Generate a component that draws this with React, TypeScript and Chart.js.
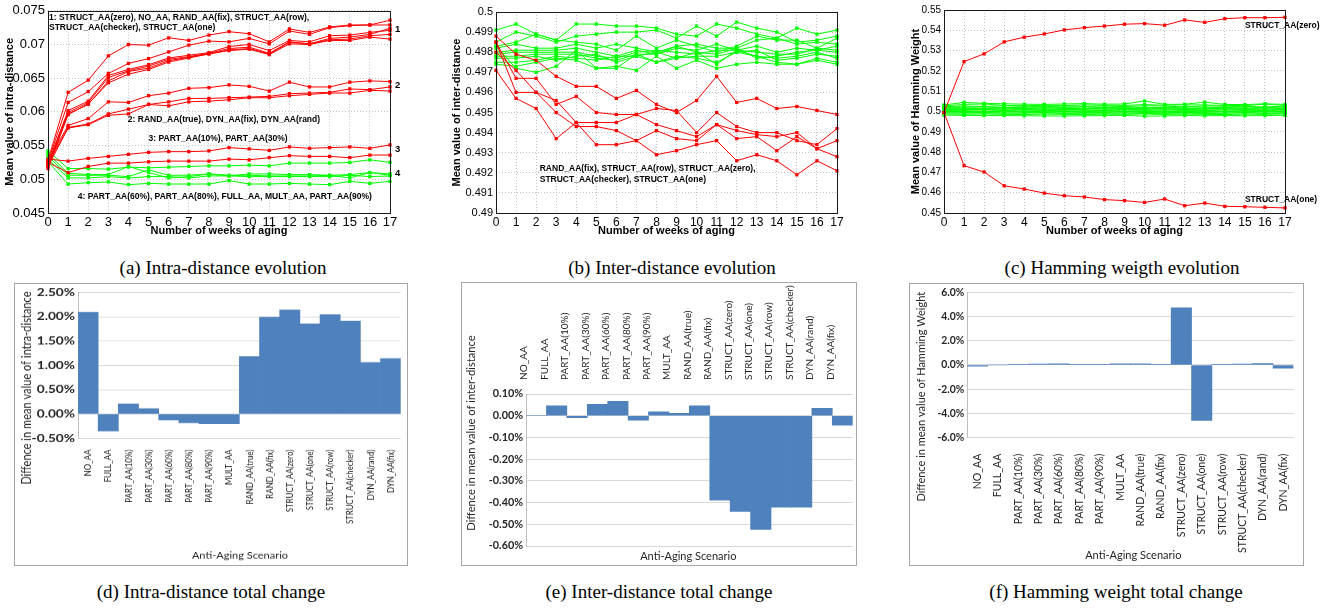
import React, { useEffect, useRef } from "react";
import { Chart, registerables } from "chart.js";
Chart.register(...registerables);

// ---------------- data ----------------
const WEEKS = ["0", "1", "2", "3", "4", "5", "6", "7", "8", "9", "10", "11", "12", "13", "14", "15", "16", "17"];

// (a) intra-distance, group 1 (red)
const INTRA_1A = [0.0528, 0.0629, 0.0647, 0.0683, 0.0700, 0.0699, 0.0710, 0.0706, 0.0714, 0.0719, 0.0716, 0.0704, 0.0723, 0.0718, 0.0726, 0.0729, 0.0729, 0.0729];
const INTRA_1B = [0.0526, 0.0614, 0.0630, 0.0657, 0.0672, 0.0679, 0.0689, 0.0699, 0.0705, 0.0704, 0.0709, 0.0701, 0.0720, 0.0715, 0.0725, 0.0728, 0.0729, 0.0736];
const INTRA_1C = [0.0524, 0.0602, 0.0616, 0.0654, 0.0663, 0.0670, 0.0680, 0.0684, 0.0688, 0.0697, 0.0700, 0.0691, 0.0706, 0.0704, 0.0713, 0.0714, 0.0718, 0.0721];
const INTRA_1D = [0.0522, 0.0599, 0.0614, 0.0651, 0.0661, 0.0668, 0.0678, 0.0682, 0.0687, 0.0694, 0.0696, 0.0687, 0.0704, 0.0701, 0.0709, 0.0711, 0.0715, 0.0724];
const INTRA_1E = [0.0520, 0.0597, 0.0611, 0.0646, 0.0660, 0.0665, 0.0676, 0.0681, 0.0686, 0.0692, 0.0694, 0.0686, 0.0703, 0.0701, 0.0707, 0.0708, 0.0713, 0.0715];
const INTRA_1F = [0.0516, 0.0596, 0.0612, 0.0643, 0.0656, 0.0663, 0.0674, 0.0680, 0.0686, 0.0691, 0.0693, 0.0685, 0.0701, 0.0700, 0.0706, 0.0706, 0.0711, 0.0708];
// group 2 (red)
const INTRA_2A = [0.0527, 0.0580, 0.0590, 0.0615, 0.0614, 0.0624, 0.0628, 0.0635, 0.0636, 0.0640, 0.0638, 0.0631, 0.0644, 0.0637, 0.0637, 0.0644, 0.0646, 0.0645];
const INTRA_2B = [0.0523, 0.0577, 0.0582, 0.0597, 0.0604, 0.0611, 0.0615, 0.0620, 0.0620, 0.0621, 0.0622, 0.0623, 0.0627, 0.0628, 0.0629, 0.0634, 0.0633, 0.0637];
const INTRA_2C = [0.0519, 0.0576, 0.0581, 0.0595, 0.0597, 0.0611, 0.0609, 0.0615, 0.0616, 0.0618, 0.0621, 0.0621, 0.0624, 0.0626, 0.0628, 0.0628, 0.0632, 0.0631];
// group 3 (red)
const INTRA_3A = [0.0530, 0.0527, 0.0531, 0.0534, 0.0537, 0.0540, 0.0541, 0.0541, 0.0542, 0.0547, 0.0545, 0.0543, 0.0548, 0.0546, 0.0547, 0.0548, 0.0546, 0.0551];
const INTRA_3B = [0.0525, 0.0510, 0.0519, 0.0524, 0.0524, 0.0526, 0.0527, 0.0527, 0.0527, 0.0530, 0.0529, 0.0532, 0.0535, 0.0534, 0.0534, 0.0532, 0.0536, 0.0536];
// group 4 (green)
const INTRA_4A = [0.0542, 0.0516, 0.0516, 0.0515, 0.0518, 0.0517, 0.0518, 0.0519, 0.0520, 0.0520, 0.0521, 0.0520, 0.0524, 0.0524, 0.0524, 0.0525, 0.0529, 0.0525];
const INTRA_4B = [0.0538, 0.0509, 0.0507, 0.0507, 0.0519, 0.0510, 0.0502, 0.0504, 0.0508, 0.0505, 0.0508, 0.0508, 0.0507, 0.0507, 0.0506, 0.0507, 0.0510, 0.0506];
const INTRA_4C = [0.0534, 0.0506, 0.0506, 0.0506, 0.0504, 0.0514, 0.0506, 0.0506, 0.0508, 0.0506, 0.0506, 0.0505, 0.0505, 0.0505, 0.0506, 0.0502, 0.0510, 0.0508];
const INTRA_4D = [0.0530, 0.0502, 0.0502, 0.0504, 0.0502, 0.0504, 0.0504, 0.0502, 0.0505, 0.0505, 0.0504, 0.0504, 0.0504, 0.0504, 0.0504, 0.0506, 0.0504, 0.0505];
const INTRA_4E = [0.0526, 0.0493, 0.0495, 0.0496, 0.0492, 0.0494, 0.0493, 0.0493, 0.0493, 0.0498, 0.0493, 0.0493, 0.0494, 0.0493, 0.0492, 0.0497, 0.0494, 0.0497];

// (b) inter-distance, red
const INTER_R1 = [0.4988, 0.4979, 0.4976, 0.4968, 0.4963, 0.4963, 0.4957, 0.4961, 0.4954, 0.4950, 0.4956, 0.4968, 0.4955, 0.4957, 0.4952, 0.4953, 0.4951, 0.4949];
const INTER_R2 = [0.4985, 0.4967, 0.4967, 0.4954, 0.4958, 0.4950, 0.4949, 0.4949, 0.4952, 0.4951, 0.4940, 0.4950, 0.4943, 0.4940, 0.4940, 0.4936, 0.4934, 0.4942];
const INTER_R3 = [0.4980, 0.4971, 0.4960, 0.4956, 0.4945, 0.4945, 0.4945, 0.4949, 0.4944, 0.4941, 0.4938, 0.4944, 0.4941, 0.4939, 0.4938, 0.4940, 0.4932, 0.4928];
const INTER_R4 = [0.4985, 0.4960, 0.4960, 0.4950, 0.4943, 0.4943, 0.4941, 0.4936, 0.4941, 0.4937, 0.4936, 0.4944, 0.4937, 0.4938, 0.4931, 0.4938, 0.4932, 0.4936];
const INTER_R5 = [0.4971, 0.4957, 0.4952, 0.4937, 0.4945, 0.4934, 0.4934, 0.4936, 0.4929, 0.4931, 0.4934, 0.4936, 0.4926, 0.4929, 0.4926, 0.4919, 0.4926, 0.4921];
// green
const INTER_G1 = [0.4991, 0.4994, 0.4989, 0.4986, 0.4994, 0.4994, 0.4993, 0.4993, 0.4992, 0.4989, 0.4988, 0.4994, 0.4992, 0.4989, 0.4987, 0.4992, 0.4989, 0.4991];
const INTER_G2 = [0.4985, 0.4990, 0.4988, 0.4985, 0.4988, 0.4989, 0.4990, 0.4990, 0.4991, 0.4987, 0.4993, 0.4988, 0.4995, 0.4992, 0.4990, 0.4985, 0.4986, 0.4988];
const INTER_G3 = [0.4983, 0.4985, 0.4989, 0.4986, 0.4985, 0.4984, 0.4981, 0.4988, 0.4982, 0.4986, 0.4983, 0.4980, 0.4983, 0.4988, 0.4986, 0.4986, 0.4982, 0.4987];
const INTER_G4 = [0.4982, 0.4984, 0.4982, 0.4982, 0.4984, 0.4982, 0.4984, 0.4982, 0.4980, 0.4983, 0.4984, 0.4982, 0.4982, 0.4986, 0.4987, 0.4984, 0.4985, 0.4984];
const INTER_G5 = [0.4980, 0.4981, 0.4981, 0.4981, 0.4982, 0.4980, 0.4978, 0.4981, 0.4979, 0.4982, 0.4981, 0.4984, 0.4981, 0.4983, 0.4980, 0.4982, 0.4981, 0.4983];
const INTER_G6 = [0.4979, 0.4980, 0.4980, 0.4980, 0.4980, 0.4978, 0.4977, 0.4980, 0.4981, 0.4980, 0.4979, 0.4981, 0.4981, 0.4980, 0.4979, 0.4979, 0.4982, 0.4981];
const INTER_G7 = [0.4978, 0.4978, 0.4979, 0.4979, 0.4979, 0.4977, 0.4976, 0.4979, 0.4979, 0.4983, 0.4980, 0.4979, 0.4982, 0.4977, 0.4978, 0.4980, 0.4981, 0.4980];
const INTER_G8 = [0.4977, 0.4977, 0.4978, 0.4976, 0.4978, 0.4979, 0.4975, 0.4978, 0.4980, 0.4977, 0.4978, 0.4978, 0.4980, 0.4978, 0.4977, 0.4978, 0.4980, 0.4977];
const INTER_G9 = [0.4975, 0.4975, 0.4976, 0.4978, 0.4977, 0.4976, 0.4978, 0.4978, 0.4975, 0.4978, 0.4977, 0.4975, 0.4980, 0.4981, 0.4976, 0.4977, 0.4979, 0.4978];
const INTER_G10 = [0.4974, 0.4973, 0.4975, 0.4977, 0.4976, 0.4972, 0.4973, 0.4971, 0.4978, 0.4972, 0.4976, 0.4972, 0.4974, 0.4975, 0.4974, 0.4974, 0.4976, 0.4974];
const INTER_G11 = [0.4983, 0.4972, 0.4970, 0.4973, 0.4981, 0.4972, 0.4972, 0.4979, 0.4975, 0.4977, 0.4980, 0.4974, 0.4981, 0.4978, 0.4975, 0.4974, 0.4977, 0.4975];

// (c) Hamming weight
const HW_ZERO = [0.4995, 0.5246, 0.5284, 0.5343, 0.5366, 0.5382, 0.5402, 0.5413, 0.5421, 0.5430, 0.5433, 0.5425, 0.5451, 0.5439, 0.5457, 0.5462, 0.5462, 0.5464];
const HW_ONE = [0.4995, 0.4733, 0.4702, 0.4634, 0.4618, 0.4598, 0.4585, 0.4579, 0.4566, 0.4561, 0.4552, 0.4569, 0.4536, 0.4549, 0.4533, 0.4531, 0.4528, 0.4525];
const HW_G1 = [0.5032, 0.5045, 0.5040, 0.5038, 0.5036, 0.5035, 0.5037, 0.5039, 0.5036, 0.5037, 0.5052, 0.5035, 0.5036, 0.5046, 0.5035, 0.5034, 0.5038, 0.5035];
const HW_G2 = [0.5028, 0.5035, 0.5037, 0.5030, 0.5028, 0.5031, 0.5029, 0.5033, 0.5031, 0.5030, 0.5034, 0.5031, 0.5033, 0.5032, 0.5030, 0.5029, 0.5036, 0.5031];
const HW_G3 = [0.5024, 0.5027, 0.5025, 0.5028, 0.5026, 0.5024, 0.5027, 0.5025, 0.5027, 0.5024, 0.5029, 0.5027, 0.5022, 0.5028, 0.5026, 0.5025, 0.5022, 0.5027];
const HW_G4 = [0.5020, 0.5022, 0.5023, 0.5018, 0.5021, 0.5022, 0.5020, 0.5023, 0.5019, 0.5022, 0.5020, 0.5018, 0.5024, 0.5021, 0.5019, 0.5023, 0.5020, 0.5023];
const HW_G5 = [0.5017, 0.5018, 0.5016, 0.5020, 0.5015, 0.5018, 0.5017, 0.5015, 0.5019, 0.5017, 0.5016, 0.5020, 0.5017, 0.5014, 0.5018, 0.5016, 0.5019, 0.5017];
const HW_G6 = [0.5013, 0.5014, 0.5015, 0.5012, 0.5016, 0.5011, 0.5014, 0.5016, 0.5012, 0.5015, 0.5013, 0.5012, 0.5015, 0.5016, 0.5012, 0.5014, 0.5013, 0.5015];
const HW_G7 = [0.5010, 0.5011, 0.5009, 0.5013, 0.5010, 0.5012, 0.5009, 0.5011, 0.5013, 0.5009, 0.5011, 0.5014, 0.5010, 0.5011, 0.5013, 0.5010, 0.5012, 0.5010];
const HW_G8 = [0.5006, 0.5008, 0.5010, 0.5006, 0.5008, 0.5005, 0.5008, 0.5007, 0.5005, 0.5008, 0.5006, 0.5008, 0.5007, 0.5005, 0.5008, 0.5007, 0.5005, 0.5008];
const HW_G9 = [0.5003, 0.5004, 0.5002, 0.5004, 0.5001, 0.5004, 0.5003, 0.5002, 0.5004, 0.5001, 0.5003, 0.5002, 0.5004, 0.5003, 0.5001, 0.5004, 0.5003, 0.5002];
const HW_G10 = [0.5000, 0.5000, 0.5001, 0.4999, 0.5002, 0.4999, 0.5000, 0.5001, 0.4998, 0.5000, 0.5001, 0.4999, 0.5001, 0.4998, 0.5000, 0.5001, 0.4999, 0.5000];
const HW_G11 = [0.4997, 0.4996, 0.4995, 0.4997, 0.4996, 0.4995, 0.4997, 0.4995, 0.4996, 0.4997, 0.4995, 0.4996, 0.4994, 0.4996, 0.4997, 0.4995, 0.4997, 0.4996];
const HW_G12 = [0.4993, 0.4992, 0.4993, 0.4991, 0.4992, 0.4993, 0.4990, 0.4992, 0.4991, 0.4992, 0.4990, 0.4991, 0.4992, 0.4990, 0.4991, 0.4993, 0.4990, 0.4992];
const HW_G13 = [0.4988, 0.4986, 0.4988, 0.4986, 0.4985, 0.4987, 0.4986, 0.4985, 0.4987, 0.4986, 0.4988, 0.4985, 0.4987, 0.4986, 0.4985, 0.4987, 0.4986, 0.4988];
const HW_G14 = [0.4982, 0.4981, 0.4980, 0.4980, 0.4979, 0.4978, 0.4978, 0.4979, 0.4980, 0.4981, 0.4977, 0.4978, 0.4980, 0.4979, 0.4980, 0.4979, 0.4980, 0.4981];

// bottom row
const SCENARIOS = ["NO_AA", "FULL_AA", "PART_AA(10%)", "PART_AA(30%)", "PART_AA(60%)", "PART_AA(80%)", "PART_AA(90%)", "MULT_AA", "RAND_AA(true)", "RAND_AA(fix)", "STRUCT_AA(zero)", "STRUCT_AA(one)", "STRUCT_AA(row)", "STRUCT_AA(checker)", "DYN_AA(rand)", "DYN_AA(fix)"];
const INTRA_CHANGE = [2.09, -0.35, 0.21, 0.11, -0.12, -0.18, -0.20, -0.20, 1.18, 1.99, 2.14, 1.85, 2.04, 1.91, 1.06, 1.14];
const INTER_CHANGE = [0.0, 0.046, -0.009, 0.052, 0.066, -0.020, 0.018, 0.011, 0.046, -0.389, -0.441, -0.524, -0.421, -0.421, 0.034, -0.043];
const HW_CHANGE = [-0.1, 0.0, 0.05, 0.08, 0.1, 0.02, 0.03, 0.1, 0.1, 0.02, 4.71, -4.58, 0.03, 0.08, 0.12, -0.27];

const CAPTIONS = [
  "(a) Intra-distance evolution",
  "(b) Inter-distance evolution",
  "(c) Hamming weigth evolution",
  "(d) Intra-distance total change",
  "(e) Inter-distance total change",
  "(f) Hamming weight total change",
];

// ---------------- helpers ----------------
const RED = "#FF0000";
const GREEN = "#00FF00";
const SANS = "'Liberation Sans', Arial, sans-serif";
const XLS = "Lato, 'Open Sans', sans-serif";

const textPlugin = {
  id: "texts",
  afterDraw(chart: any, _a: any, opts: any) {
    const items = (opts && opts.items) || [];
    const sy = (opts && opts.sy) || 1;
    const ctx = chart.ctx;
    for (const t of items) {
      ctx.save();
      ctx.font = t.font;
      ctx.fillStyle = t.color || "#000";
      ctx.textAlign = t.align || "left";
      ctx.textBaseline = "middle";
      let x = t.x;
      let y = t.y;
      if (t.data) {
        x = chart.scales.x.getPixelForValue(t.x);
        y = chart.scales.y.getPixelForValue(t.y);
      } else {
        y = y / sy;
      }
      ctx.translate(x, y);
      if (t.rotate) ctx.rotate(t.rotate);
      ctx.fillText(t.text, 0, 0);
      ctx.restore();
    }
  },
};

const boxPlugin = {
  id: "box",
  afterDraw(chart: any, _a: any, opts: any) {
    if (!opts || !opts.show) return;
    const { left, top, right, bottom } = chart.chartArea;
    const ctx = chart.ctx;
    ctx.save();
    ctx.strokeStyle = "#1a1a1a";
    ctx.lineWidth = 1;
    ctx.strokeRect(Math.round(left) + 0.5, Math.round(top) + 0.5, Math.round(right - left), Math.round(bottom - top));
    ctx.restore();
  },
};

const fmtNum = (v: any) => String(parseFloat(Number(v).toFixed(4)));

function lineDs(data: number[], color: string) {
  return {
    data,
    borderColor: color,
    backgroundColor: color,
    borderWidth: 1,
    pointRadius: 2.3,
    pointStyle: "rect",
    pointBorderWidth: 0,
    tension: 0,
  };
}

function lineConfig(p: any) {
  return {
    type: "line",
    data: { labels: WEEKS, datasets: p.datasets },
    options: {
      animation: false,
      responsive: false,
      devicePixelRatio: 1,
      layout: { padding: { left: 0, top: p.padTop, right: p.padRight, bottom: 0 } },
      plugins: {
        legend: { display: false },
        tooltip: { enabled: false },
        box: { show: true },
        texts: { items: p.texts },
      },
      scales: {
        x: {
          type: "category",
          offset: false,
          grid: { color: "#c4c4c4", drawTicks: false, lineWidth: 1 },
          border: { display: false, dash: [1, 2] },
          ticks: { font: { family: SANS, size: p.xTickSize }, color: "#000", padding: 2, maxRotation: 0, autoSkip: false },
          title: {
            display: true,
            text: "Number of weeks of aging",
            color: "#000",
            font: { family: SANS, size: 11, weight: "bold" },
            padding: { top: 0, bottom: 2 },
          },
          afterFit: (s: any) => { s.height = p.xHeight; },
        },
        y: {
          min: p.yMin,
          max: p.yMax,
          grid: { color: "#c4c4c4", drawTicks: false, lineWidth: 1 },
          border: { display: false, dash: [1, 2] },
          ticks: { stepSize: p.yStep, callback: fmtNum, font: { family: SANS, size: p.tickSize }, color: "#000", padding: 3 },
          title: {
            display: true,
            text: p.yTitle,
            color: "#000",
            font: { family: SANS, size: 11, weight: "bold" },
            padding: { top: p.yTitlePad, bottom: 0 },
          },
          afterFit: (s: any) => { s.width = p.yWidth; },
        },
      },
    },
    plugins: [boxPlugin, textPlugin],
  };
}

function barConfig(p: any) {
  const IH = Math.round(p.H / p.sy);
  const iT = p.plotT / p.sy;
  const iB = p.plotB / p.sy;
  const isTop = p.xPos === "top";
  return {
    type: "bar",
    data: {
      labels: SCENARIOS,
      datasets: [
        {
          data: p.values,
          backgroundColor: "#4F81BD",
          borderWidth: 0,
          categoryPercentage: 1,
          barPercentage: 1,
        },
      ],
    },
    options: {
      animation: false,
      responsive: false,
      devicePixelRatio: 1,
      layout: {
        padding: { left: 0, right: p.W - p.plotR, top: isTop ? 0 : iT, bottom: isTop ? IH - iB : 0 },
      },
      plugins: {
        legend: { display: false },
        tooltip: { enabled: false },
        texts: { items: p.texts, sy: p.sy },
      },
      scales: {
        x: {
          position: p.xPos,
          grid: { display: false },
          border: { display: false },
          ticks: {
            minRotation: 90,
            maxRotation: 90,
            autoSkip: false,
            padding: p.labelPad / p.sy,
            color: "#262626",
            font: { family: XLS, size: p.catSize },
          },
          afterFit: (s: any) => { s.height = isTop ? iT : IH - iB; },
        },
        y: {
          min: p.min,
          max: p.max,
          grid: { color: "#D9D9D9", drawTicks: false, lineWidth: 1 },
          border: { display: true, color: "#BFBFBF" },
          ticks: {
            stepSize: p.step,
            callback: (v: any) => Number(v).toFixed(p.decimals) + "%",
            padding: 3,
            color: "#262626",
            font: { family: XLS, size: p.tickSize, weight: "bold" },
          },
          afterFit: (s: any) => { s.width = p.plotL; },
        },
      },
    },
    plugins: [textPlugin],
  };
}

function ChartCanvas({ left, top, width, height, sy = 1, border = false, make }: any) {
  const ref = useRef<HTMLCanvasElement>(null);
  const ih = Math.round(height / sy);
  useEffect(() => {
    const cfg = make();
    const chart = new Chart(ref.current as HTMLCanvasElement, cfg as any);
    return () => chart.destroy();
  }, []);
  return (
    <div
      style={{
        position: "absolute",
        left,
        top,
        width,
        height,
        boxSizing: "border-box",
        border: border ? "1px solid #A6A6A6" : "none",
      }}
    >
      <canvas
        ref={ref}
        width={width}
        height={ih}
        style={{
          position: "absolute",
          left: border ? -1 : 0,
          top: border ? -1 : 0,
          width: width + "px",
          height: ih * sy + "px",
          display: "block",
        }}
      />
    </div>
  );
}

const ANNO = `bold 8.5px ${SANS}`;
const NUMF = `bold 9.5px ${SANS}`;

function makeA() {
  return lineConfig({
    datasets: [
      lineDs(INTRA_1A, RED), lineDs(INTRA_1B, RED), lineDs(INTRA_1C, RED), lineDs(INTRA_1D, RED), lineDs(INTRA_1E, RED), lineDs(INTRA_1F, RED),
      lineDs(INTRA_2A, RED), lineDs(INTRA_2B, RED), lineDs(INTRA_2C, RED),
      lineDs(INTRA_3A, RED), lineDs(INTRA_3B, RED),
      lineDs(INTRA_4A, GREEN), lineDs(INTRA_4B, GREEN), lineDs(INTRA_4C, GREEN), lineDs(INTRA_4D, GREEN), lineDs(INTRA_4E, GREEN),
    ],
    yMin: 0.045, yMax: 0.075, yStep: 0.005,
    yTitle: "Mean value of intra-distance",
    padTop: 10, padRight: 50, yWidth: 48, xHeight: 27, yTitlePad: 3, tickSize: 13, xTickSize: 13,
    texts: [
      { data: true, x: 0.05, y: 0.0740, text: "1: STRUCT_AA(zero), NO_AA, RAND_AA(fix), STRUCT_AA(row),", font: ANNO },
      { data: true, x: 0.05, y: 0.0725, text: "STRUCT_AA(checker), STRUCT_AA(one)", font: ANNO },
      { data: true, x: 3.97, y: 0.0589, text: "2: RAND_AA(true), DYN_AA(fix), DYN_AA(rand)", font: ANNO },
      { data: true, x: 5.0, y: 0.0560, text: "3: PART_AA(10%), PART_AA(30%)", font: ANNO },
      { data: true, x: 1.48, y: 0.0474, text: "4: PART_AA(60%), PART_AA(80%), FULL_AA, MULT_AA, PART_AA(90%)", font: ANNO },
      { data: true, x: 17.25, y: 0.0723, text: "1", font: NUMF },
      { data: true, x: 17.25, y: 0.0639, text: "2", font: NUMF },
      { data: true, x: 17.25, y: 0.0545, text: "3", font: NUMF },
      { data: true, x: 17.25, y: 0.0509, text: "4", font: NUMF },
    ],
  });
}

function makeB() {
  return lineConfig({
    datasets: [
      lineDs(INTER_R1, RED), lineDs(INTER_R2, RED), lineDs(INTER_R3, RED), lineDs(INTER_R4, RED), lineDs(INTER_R5, RED),
      lineDs(INTER_G1, GREEN), lineDs(INTER_G2, GREEN), lineDs(INTER_G3, GREEN), lineDs(INTER_G4, GREEN),
      lineDs(INTER_G5, GREEN), lineDs(INTER_G6, GREEN), lineDs(INTER_G7, GREEN), lineDs(INTER_G8, GREEN),
      lineDs(INTER_G9, GREEN), lineDs(INTER_G10, GREEN), lineDs(INTER_G11, GREEN),
    ],
    yMin: 0.49, yMax: 0.5, yStep: 0.001,
    yTitle: "Mean value of inter-distance",
    padTop: 12, padRight: 43, yWidth: 56, xHeight: 27, yTitlePad: 10, tickSize: 11, xTickSize: 12,
    texts: [
      { data: true, x: 2.18, y: 0.49222, text: "RAND_AA(fix), STRUCT_AA(row), STRUCT_AA(zero),", font: ANNO },
      { data: true, x: 2.18, y: 0.49168, text: "STRUCT_AA(checker), STRUCT_AA(one)", font: ANNO },
    ],
  });
}

function makeC() {
  return lineConfig({
    datasets: [
      lineDs(HW_ZERO, RED), lineDs(HW_ONE, RED),
      lineDs(HW_G1, GREEN), lineDs(HW_G2, GREEN), lineDs(HW_G3, GREEN), lineDs(HW_G4, GREEN), lineDs(HW_G5, GREEN),
      lineDs(HW_G6, GREEN), lineDs(HW_G7, GREEN), lineDs(HW_G8, GREEN), lineDs(HW_G9, GREEN), lineDs(HW_G10, GREEN),
      lineDs(HW_G11, GREEN), lineDs(HW_G12, GREEN), lineDs(HW_G13, GREEN), lineDs(HW_G14, GREEN),
    ],
    yMin: 0.45, yMax: 0.55, yStep: 0.01,
    yTitle: "Mean value of Hamming Weight",
    padTop: 10, padRight: 47, yWidth: 64, xHeight: 27, yTitlePad: 29, tickSize: 10, xTickSize: 12,
    texts: [
      { data: true, x: 15.0, y: 0.5421, text: "STRUCT_AA(zero)", font: ANNO },
      { data: true, x: 15.0, y: 0.4565, text: "STRUCT_AA(one)", font: ANNO },
    ],
  });
}

const SY_D = 0.82;
const SY_EF = 1.0;

function makeD() {
  return barConfig({
    values: INTRA_CHANGE, min: -0.5, max: 2.5, step: 0.25, decimals: 2,
    W: 394, H: 283, sy: SY_D, plotL: 64, plotR: 390.3, plotT: 9.3, plotB: 155.3,
    xPos: "bottom", labelPad: 4.7, tickSize: 13.7, catSize: 9.6,
    texts: [
      { x: 12.7, y: 105, text: "Diffence in mean value of intra-distance", font: `13.5px ${XLS}`, align: "center", rotate: -Math.PI / 2, color: "#262626" },
      { x: 226, y: 273, text: "Anti-Aging Scenario", font: `11px ${XLS}`, align: "center", color: "#262626" },
    ],
  });
}

function makeE() {
  return barConfig({
    values: INTER_CHANGE, min: -0.6, max: 0.1, step: 0.1, decimals: 2,
    W: 396, H: 284, sy: SY_EF, plotL: 65, plotR: 391.7, plotT: 112, plotB: 264,
    xPos: "top", labelPad: 6, tickSize: 10.8, catSize: 10,
    texts: [
      { x: 10.7, y: 151, text: "Diffence in mean value of inter-distance", font: `11.2px ${XLS}`, align: "center", rotate: -Math.PI / 2, color: "#262626" },
      { x: 227.3, y: 274, text: "Anti-Aging Scenario", font: `11px ${XLS}`, align: "center", color: "#262626" },
    ],
  });
}

function makeF() {
  return barConfig({
    values: HW_CHANGE, min: -6, max: 6, step: 2, decimals: 1,
    W: 395, H: 283, sy: SY_EF, plotL: 58.3, plotR: 391, plotT: 8.7, plotB: 154.7,
    xPos: "bottom", labelPad: 8, tickSize: 10.4, catSize: 10.5,
    texts: [
      { x: 12.7, y: 113.7, text: "Diffence in mean value of Hamming Weight", font: `11px ${XLS}`, align: "center", rotate: -Math.PI / 2, color: "#262626" },
      { x: 224.3, y: 272, text: "Anti-Aging Scenario", font: `11px ${XLS}`, align: "center", color: "#262626" },
    ],
  });
}

const CAP_POS = [
  { x: 223, y: 268 },
  { x: 672, y: 268 },
  { x: 1122, y: 268 },
  { x: 211, y: 592 },
  { x: 659, y: 592 },
  { x: 1116, y: 592 },
];

export default function App() {
  return (
    <div style={{ position: "absolute", left: 0, top: 0, width: 1332, height: 608, background: "#fff", overflow: "hidden" }}>
      <ChartCanvas left={0} top={0} width={440} height={240} make={makeA} />
      <ChartCanvas left={440} top={0} width={440} height={240} make={makeB} />
      <ChartCanvas left={880} top={0} width={452} height={240} make={makeC} />
      <ChartCanvas left={14} top={283} width={394} height={283} sy={SY_D} border make={makeD} />
      <ChartCanvas left={461} top={282} width={396} height={284} sy={SY_EF} border make={makeE} />
      <ChartCanvas left={909} top={283} width={395} height={283} sy={SY_EF} border make={makeF} />
      {CAPTIONS.map((c, i) => (
        <div
          key={i}
          style={{
            position: "absolute",
            left: CAP_POS[i].x,
            top: CAP_POS[i].y - 11,
            transform: "translateX(-50%)",
            whiteSpace: "nowrap",
            fontFamily: "'Liberation Serif', 'Times New Roman', serif",
            fontSize: 19,
            lineHeight: "22px",
            color: "#000",
          }}
        >
          {c}
        </div>
      ))}
    </div>
  );
}
